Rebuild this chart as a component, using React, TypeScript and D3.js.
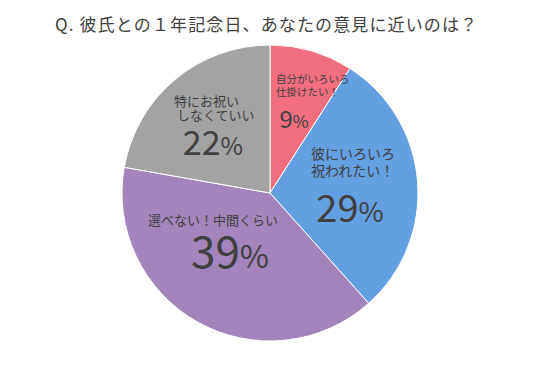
import React from "react";
import * as d3 from "d3";

const title = "Q. 彼氏との１年記念日、あなたの意見に近いのは？";
const categories = ["自分がいろいろ仕掛けたい！", "彼にいろいろ祝われたい！", "選べない！中間くらい", "特にお祝いしなくていい"];
const values = [9, 29, 39, 22];
const colors = ["#F06E7E", "#649FE2", "#A385BD", "#A3A3A3"];
const labelLines = [["自分がいろいろ", "仕掛けたい！"], ["彼にいろいろ", "祝われたい！"], ["選べない！中間くらい"], ["特にお祝い", " しなくていい"]];

const W = 541, H = 382;
const cx = 270, cy = 193, R = 148;
const FONT = "'Noto Sans CJK JP', 'Noto Sans', sans-serif";

const layout = [
  { x: 276, y: 83, lh: 13, fs: 10.5, px: 294, py: 128, ps: 24 },
  { x: 311, y: 159, lh: 17, fs: 14, px: 350, py: 222, ps: 38 },
  { x: 148, y: 225, lh: 18, fs: 13, px: 230, py: 268, ps: 44 },
  { x: 174, y: 106, lh: 13.5, fs: 13, px: 213, py: 155, ps: 34 },
];

export default function App() {
  const pie = d3.pie<number>().sort(null).value((d) => d)(values);
  const arc = d3.arc<d3.PieArcDatum<number>>().innerRadius(0).outerRadius(R);
  return (
    <svg width={W} height={H} style={{ display: "block", position: "absolute", left: 0, top: 0, background: "#fff" }}>
      <text x={55} y={31} textLength={422} lengthAdjust="spacing" fontFamily={FONT} fontSize={17} fill="#404040">{title}</text>
      <g transform={`translate(${cx},${cy})`}>
        {pie.map((p, i) => (
          <path key={i} d={arc(p) || ""} fill={colors[i]} stroke="#fff" strokeWidth={1} />
        ))}
      </g>
      {layout.map((l, i) => (
        <g key={i} fontFamily={FONT} fill="#404040">
          <text x={l.x} y={l.y} fontSize={l.fs} style={{ whiteSpace: "pre" }}>
            {labelLines[i].map((t, j) => (
              <tspan key={j} x={l.x} dy={j === 0 ? 0 : l.lh}>{t}</tspan>
            ))}
          </text>
          <text x={l.px} y={l.py} fontSize={l.ps} textAnchor="middle">
            {values[i]}<tspan fontSize={l.ps * 0.72}>%</tspan>
          </text>
        </g>
      ))}
    </svg>
  );
}
